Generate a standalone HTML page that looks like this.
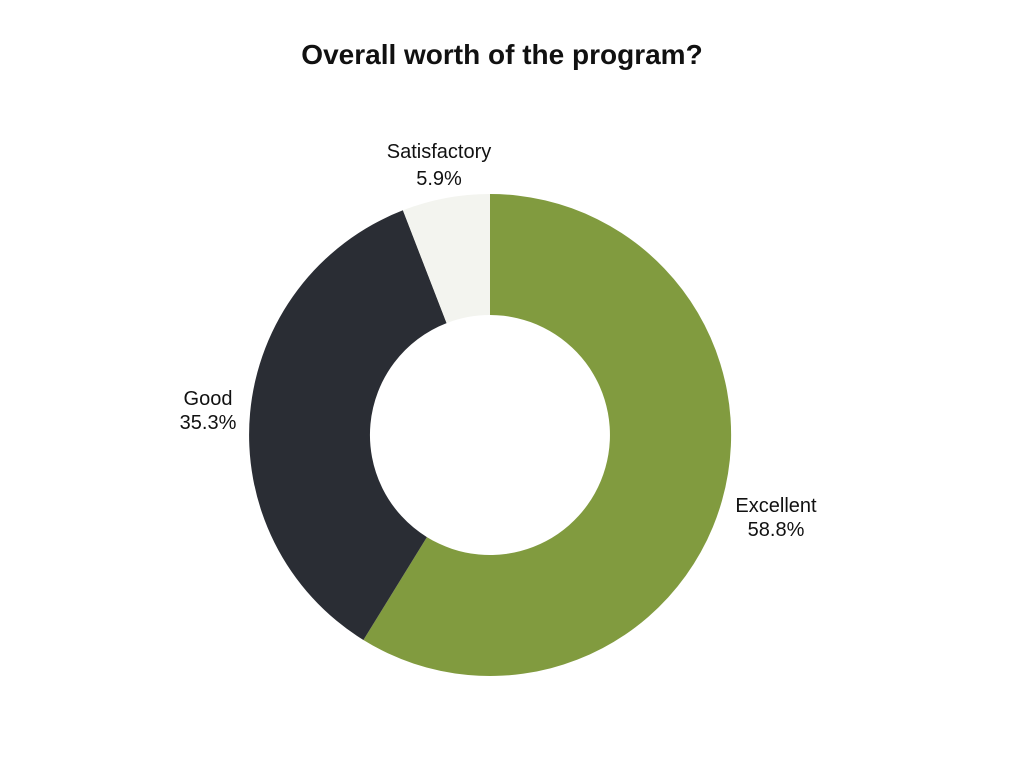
<!DOCTYPE html>
<html><head><meta charset="utf-8"><style>
body{margin:0;background:#fff;}
svg text{font-family:"Liberation Sans",sans-serif;fill:#111;}
</style></head><body>
<svg width="1024" height="768" viewBox="0 0 1024 768" xmlns="http://www.w3.org/2000/svg">
<rect width="1024" height="768" fill="#fff"/>
<text x="502" y="64" text-anchor="middle" font-size="28" font-weight="bold">Overall worth of the program?</text>
<path d="M490,194 A241,241 0 1 1 363.4,640 L426.9,537.1 A120,120 0 1 0 490,315 Z" fill="#819b3f"/>
<path d="M363.4,640 A241,241 0 0 1 402.9,210.3 L446.6,323.1 A120,120 0 0 0 426.9,537.1 Z" fill="#2a2d34"/>
<path d="M402.9,210.3 A241,241 0 0 1 490,194 L490,315 A120,120 0 0 0 446.6,323.1 Z" fill="#f3f4ef"/>
<g font-size="20" text-anchor="middle">
<text x="439" y="158">Satisfactory</text>
<text x="439" y="185">5.9%</text>
<text x="208" y="405">Good</text>
<text x="208" y="429">35.3%</text>
<text x="776" y="512">Excellent</text>
<text x="776" y="536">58.8%</text>
</g>
</svg>
</body></html>
